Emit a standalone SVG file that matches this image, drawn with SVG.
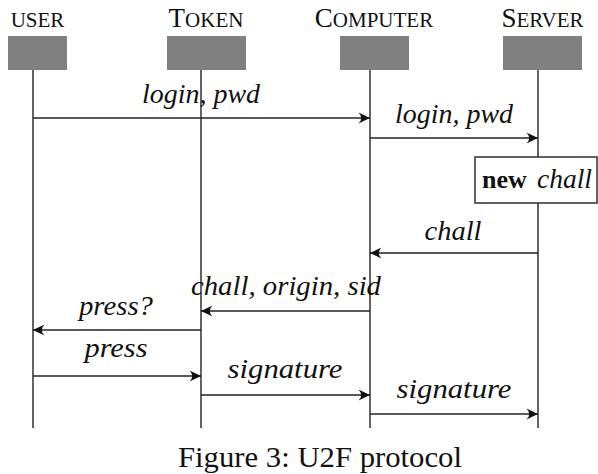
<svg xmlns="http://www.w3.org/2000/svg" width="598" height="474" viewBox="0 0 598 474">
<style>
.hdr{font-family:"Liberation Serif",serif;font-size:27px;fill:#111;text-anchor:middle}
.sc{font-size:21px}
.box{fill:#808080}
.life{stroke:#222;stroke-width:1.4;fill:none}
.msg{stroke:#222;stroke-width:1.5;fill:none;marker-end:url(#ah)}
.lbl{font-family:"Liberation Serif",serif;font-style:italic;font-size:27px;fill:#111;text-anchor:middle}
.cap{font-family:"Liberation Serif",serif;font-size:29px;fill:#111}
</style>
<defs>
<marker id="ah" markerUnits="userSpaceOnUse" markerWidth="14" markerHeight="12" viewBox="-12 -6 14 12" refX="0" refY="0" orient="auto">
<path d="M0,0 L-11.5,-5.5 Q-6,0 -11.5,5.5 Z" fill="#111"/>
</marker>
</defs>
<g id="user">
<text class="hdr" x="37.5" y="27"><tspan class="sc">USER</tspan></text>
<rect class="box" x="8" y="36" width="59" height="34"/>
<line class="life" x1="33" y1="70" x2="33" y2="428"/>
</g>
<g id="token">
<text class="hdr" x="206" y="27">T<tspan class="sc">OKEN</tspan></text>
<rect class="box" x="167" y="36" width="79" height="34"/>
<line class="life" x1="201" y1="70" x2="201" y2="428"/>
</g>
<g id="computer">
<text class="hdr" x="374" y="27">C<tspan class="sc">OMPUTER</tspan></text>
<rect class="box" x="340" y="36" width="69" height="34"/>
<line class="life" x1="370" y1="70" x2="370" y2="428"/>
</g>
<g id="server">
<text class="hdr" x="542.5" y="27">S<tspan class="sc">ERVER</tspan></text>
<rect class="box" x="503" y="36" width="79" height="34"/>
<line class="life" x1="538" y1="70" x2="538" y2="428"/>
</g>
<g id="newchall">
<rect x="475" y="157" width="122" height="46" fill="#fff" stroke="#222" stroke-width="1.4"/>
<text x="482" y="188" font-family="'Liberation Serif',serif" font-size="26" font-weight="bold" fill="#111">new</text>
<text class="lbl" x="564.5" y="188" textLength="55" lengthAdjust="spacingAndGlyphs">chall</text>
</g>
<g id="connectors">
<line class="msg" x1="33" y1="118" x2="370" y2="118"/>
<line class="msg" x1="370" y1="138" x2="538" y2="138"/>
<line class="msg" x1="538" y1="253" x2="370" y2="253"/>
<line class="msg" x1="370" y1="311" x2="201" y2="311"/>
<line class="msg" x1="201" y1="330" x2="33" y2="330"/>
<line class="msg" x1="33" y1="376" x2="201" y2="376"/>
<line class="msg" x1="201" y1="395" x2="370" y2="395"/>
<line class="msg" x1="370" y1="414" x2="538" y2="414"/>
</g>
<g id="labels">
<text class="lbl" x="201" y="103" textLength="118" lengthAdjust="spacingAndGlyphs">login, pwd</text>
<text class="lbl" x="454" y="123" textLength="118" lengthAdjust="spacingAndGlyphs">login, pwd</text>
<text class="lbl" x="453" y="240" textLength="57" lengthAdjust="spacingAndGlyphs">chall</text>
<text class="lbl" x="286" y="295" textLength="190" lengthAdjust="spacingAndGlyphs">chall, origin, sid</text>
<text class="lbl" x="116" y="315" textLength="74" lengthAdjust="spacingAndGlyphs">press?</text>
<text class="lbl" x="116" y="357" textLength="63" lengthAdjust="spacingAndGlyphs">press</text>
<text class="lbl" x="285" y="378" textLength="115" lengthAdjust="spacingAndGlyphs">signature</text>
<text class="lbl" x="454" y="398" textLength="115" lengthAdjust="spacingAndGlyphs">signature</text>
</g>
<text class="cap" x="178" y="467" textLength="284" lengthAdjust="spacingAndGlyphs">Figure 3: U2F protocol</text>
</svg>
